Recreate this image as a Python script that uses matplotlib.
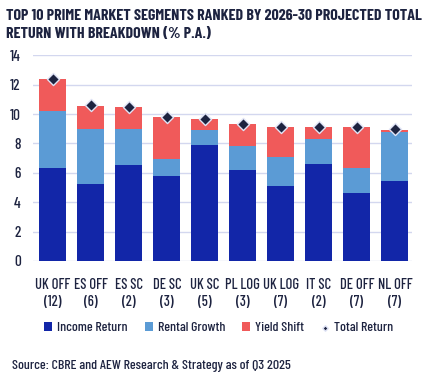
import matplotlib.pyplot as plt
import numpy as np
from matplotlib import font_manager

plt.switch_backend('Agg')

segments = ['UK OFF\n(12)', 'ES OFF\n(6)', 'ES SC\n(2)', 'DE SC\n(3)', 'UK SC\n(5)',
            'PL LOG\n(3)', 'UK LOG\n(7)', 'IT SC\n(2)', 'DE OFF\n(7)', 'NL OFF\n(7)']
income = [6.3, 5.25, 6.5, 5.75, 7.9, 6.2, 5.1, 6.6, 4.6, 5.45]
rental = [3.9, 3.75, 2.5, 1.2, 1.05, 1.65, 1.95, 1.7, 1.7, 3.35]
yield_shift = [2.2, 1.55, 1.5, 2.85, 0.75, 1.5, 2.05, 0.85, 2.85, 0.12]
total = [12.4, 10.6, 10.5, 9.8, 9.7, 9.35, 9.15, 9.15, 9.15, 8.97]

names = set(f.name for f in font_manager.fontManager.ttflist)


def pick(cands):
    for c in cands:
        if c in names:
            return c
    return 'DejaVu Sans'


body = pick(['Barlow Condensed', 'Roboto Condensed', 'Archivo Narrow', 'Liberation Sans'])
head = body
plt.rcParams['font.family'] = [body, 'DejaVu Sans']

navy = '#1d2340'
c_inc = '#1226a8'
c_ren = '#5b9bd5'
c_yld = '#f05a5a'

fig = plt.figure(figsize=(4.26, 3.77), dpi=100)
ax = fig.add_axes([0.078, 0.308, 0.89, 0.545])

x = np.arange(len(segments))
w = 0.71
inc = np.array(income)
ren = np.array(rental)
yl = np.array(yield_shift)
b1 = ax.bar(x, inc, w, color=c_inc, zorder=2)
b2 = ax.bar(x, ren, w, bottom=inc, color=c_ren, zorder=2)
b3 = ax.bar(x, yl, w, bottom=inc + ren, color=c_yld, zorder=2)
sc = ax.scatter(x, total, marker='D', s=38, color=navy, edgecolor='#dfe3f5', linewidth=1.0,
                zorder=3)

ax.set_ylim(0, 14)
ax.set_xlim(-0.52, 9.46)
ax.set_yticks(range(0, 15, 2))
ax.set_xticks(x)
ax.set_xticklabels(segments, fontsize=10.5, color=navy, linespacing=1.35, fontweight='medium')
ax.tick_params(axis='y', labelsize=11, colors=navy, length=0, pad=9)
for lab in ax.get_yticklabels():
    lab.set_fontweight('medium')
ax.tick_params(axis='x', length=0, pad=12)
ax.grid(axis='y', color='#d3d7ef', linewidth=1, zorder=0)
for s in ax.spines.values():
    s.set_visible(False)

fig.text(0.015, 0.975, 'TOP 10 PRIME MARKET SEGMENTS RANKED BY 2026-30 PROJECTED TOTAL\nRETURN WITH BREAKDOWN (% P.A.)',
         fontsize=11.5, fontweight='bold', color=navy, va='top', linespacing=1.3, family=[head, 'DejaVu Sans'])

leg = fig.legend([b1, b2, b3, sc], ['Income Return', 'Rental Growth', 'Yield Shift', 'Total Return'],
                 loc='center', bbox_to_anchor=(0.513, 0.13), ncol=4, frameon=False,
                 prop={'family': [body, 'DejaVu Sans'], 'size': 10, 'weight': 'medium'},
                 handlelength=0.6, handleheight=0.6, handletextpad=0.35,
                 columnspacing=1.2, markerscale=0.45)
for t in leg.get_texts():
    t.set_color(navy)

fig.text(0.028, 0.03, 'Source: CBRE and AEW Research & Strategy as of Q3 2025',
         fontsize=10, color=navy, va='center', fontweight='medium')

fig.savefig('out.png', dpi=100)
